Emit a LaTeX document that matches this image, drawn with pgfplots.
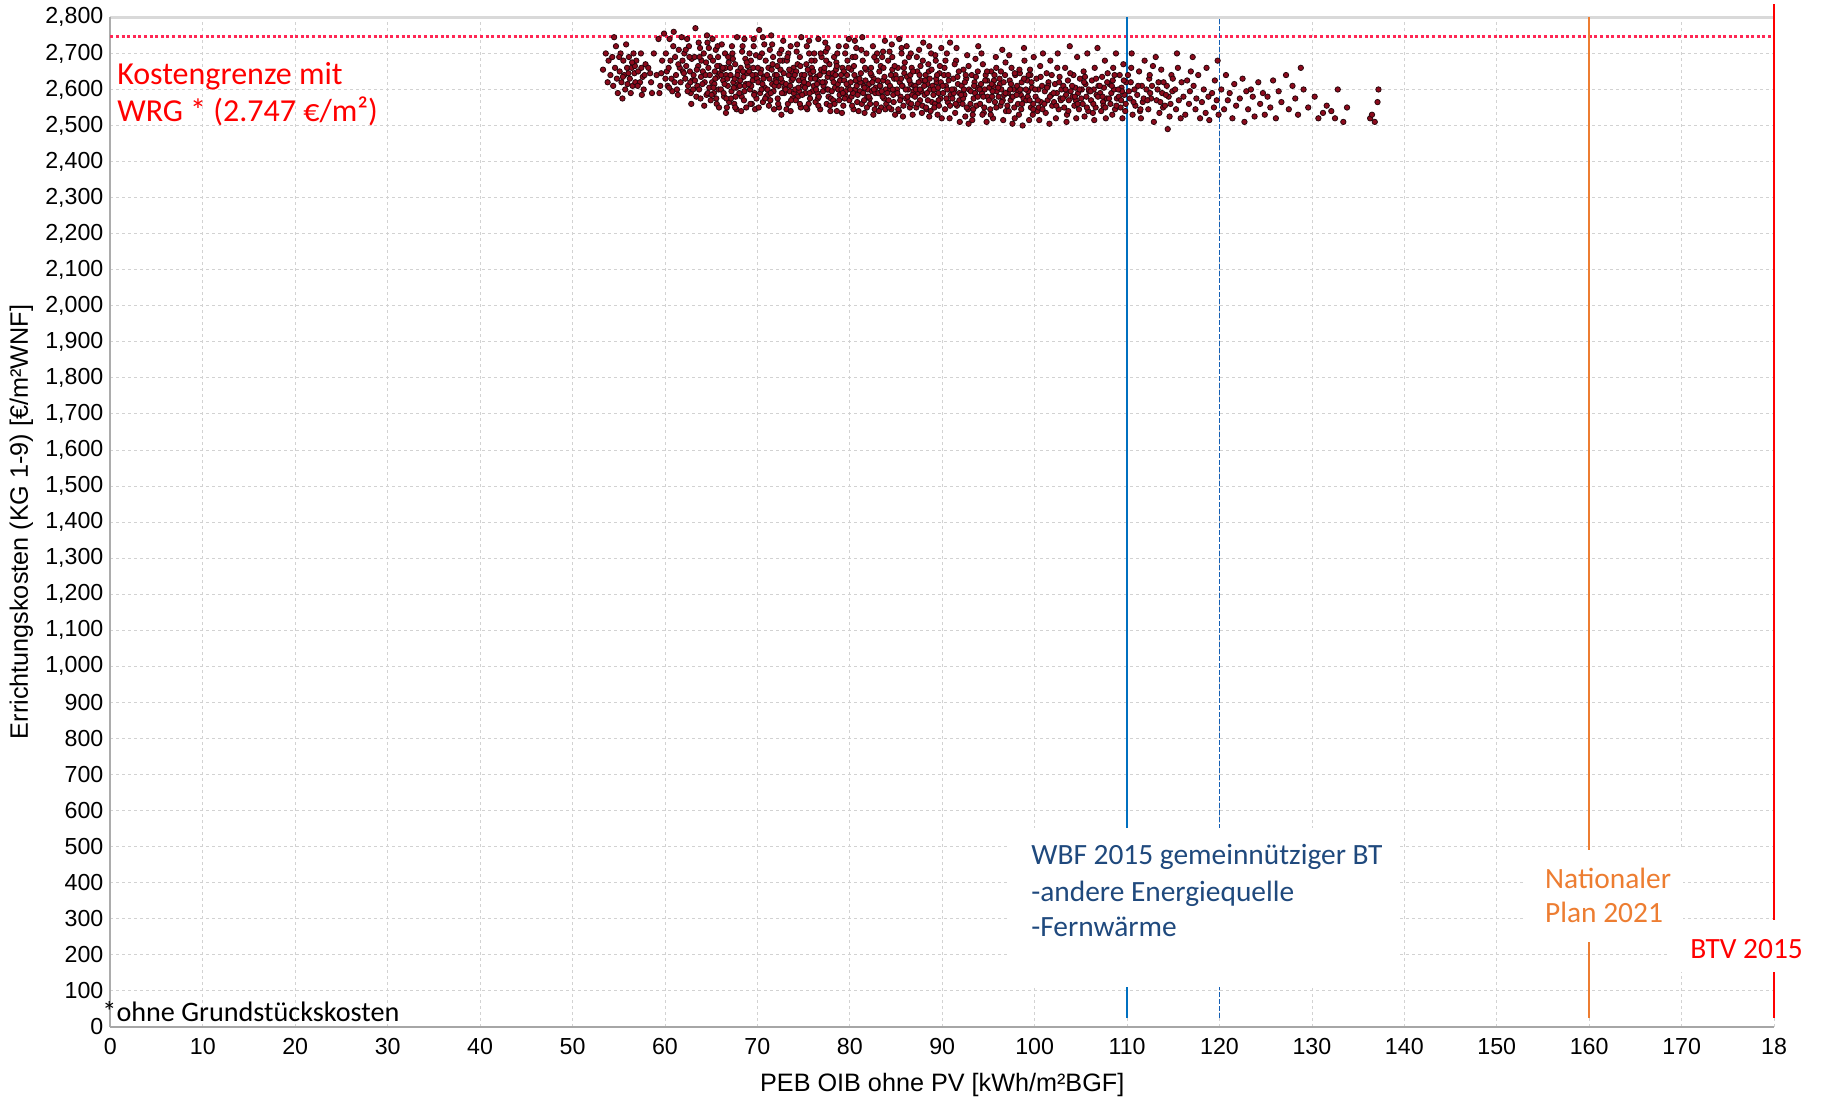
\documentclass[border=0pt]{standalone}
\usepackage{pgfplots}
\pgfplotsset{compat=1.18}
\usepackage{fontspec}
\setmainfont{Liberation Sans}
\newfontfamily\calibri{Carlito}
\definecolor{ptfill}{RGB}{140,10,28}
\definecolor{ptedge}{RGB}{40,6,12}
\definecolor{limred}{RGB}{255,40,85}
\definecolor{wbfblue}{RGB}{0,112,192}
\definecolor{wbfdash}{RGB}{20,95,180}
\definecolor{wbftext}{RGB}{31,73,125}
\definecolor{natorange}{RGB}{237,125,49}
\definecolor{btvred}{RGB}{255,0,0}
\begin{document}
\begin{tikzpicture}
\begin{axis}[
  name=ax, at={(0,0)}, anchor=south west,
  scale only axis,
  width=831.8pt, height=504.6pt,
  xmin=0, xmax=180, ymin=0, ymax=2800,
  clip=false,
  axis line style={draw=none},
  xtick={0,10,...,180},
  xticklabels={0,10,20,30,40,50,60,70,80,90,100,110,120,130,140,150,160,170,18},
  ytick={0,100,...,2800},
  major tick length=0pt,
  grid=major,
  major grid style={gray!35, line width=0.4pt, dash pattern=on 1.5pt off 1.5pt},
  tick label style={font=\fontsize{11.6}{13}\selectfont},
  /pgf/number format/assume math mode=true,
  /pgf/number format/.cd, 1000 sep={,},
  /pgfplots/.cd,
  xticklabel style={yshift=-2.5pt},
  xlabel={PEB OIB ohne PV [kWh/m²BGF]},
  ylabel={Errichtungskosten (KG 1-9) [€/m²WNF]},
  label style={font=\fontsize{12.6}{14}\selectfont},
  xlabel style={at={(axis description cs:0.5,-0.0575)}, anchor=center},
  ylabel style={at={(axis description cs:-0.0535,0.5)}, anchor=center},
]
% frame
\draw[gray!30, line width=1.2pt] (axis cs:0,2800) -- (axis cs:180,2800);
\draw[gray!65, line width=1pt] (axis cs:0,0) -- (axis cs:0,2800);
\draw[gray!70, line width=0.9pt] (axis cs:0,0) -- (axis cs:180,0);

\addplot[only marks, mark=*, mark size=1.35pt, mark options={fill=ptfill, draw=ptedge, line width=0.4pt}] coordinates {
(53.3,2655) (53.6,2700) (53.8,2620) (53.9,2680)
(54.1,2640) (54.3,2690) (54.4,2610) (54.6,2660) (54.7,2720) (54.8,2630) (54.9,2590) (54.5,2745)
(55.1,2650) (55.2,2700) (55.3,2620) (55.5,2680) (55.6,2640) (55.7,2600) (55.8,2725) (55.9,2660) (55.4,2575) (55.95,2615)
(56.1,2690) (56.2,2630) (56.4,2660) (56.5,2610) (56.6,2700) (56.7,2645) (56.8,2620) (56.9,2680) (56.3,2590) (56.75,2665)
(57.1,2650) (57.3,2620) (57.4,2700) (57.6,2635) (57.7,2600) (57.9,2670) (57.5,2585) (57.8,2640)
(58.2,2660) (58.5,2620) (58.8,2700) (58.6,2590)
(59.1,2640) (59.3,2740) (59.5,2610) (59.7,2680) (59.9,2755) (59.4,2590)
(60.1,2700) (60.2,2650) (60.3,2610) (60.5,2740) (60.6,2680) (60.7,2630) (60.8,2595) (60.9,2720) (60.4,2660) (60.95,2760)
(61.1,2690) (61.2,2640) (61.3,2600) (61.5,2710) (61.6,2660) (61.7,2620) (61.8,2745) (61.9,2680) (61.4,2585) (61.95,2650)
(62.1,2700) (62.2,2630) (62.3,2665) (62.5,2610) (62.6,2720) (62.7,2650) (62.8,2590) (62.9,2685) (62.4,2740) (62.95,2625)
(63.1,2640) (63.2,2690) (63.3,2770) (63.5,2610) (63.6,2665) (63.7,2600) (63.8,2715) (63.9,2635) (63.4,2580) (63.95,2680)
(64.1,2650) (64.2,2700) (64.3,2620) (64.5,2585) (64.6,2730) (64.7,2660) (64.8,2605) (64.9,2690) (64.4,2640) (64.95,2570) (64.55,2750)
(65.1,2620) (65.2,2680) (65.3,2590) (65.4,2650) (65.5,2710) (65.6,2560) (65.7,2635) (65.8,2600) (65.9,2665) (65.15,2740) (65.35,2615) (65.55,2575) (65.75,2690) (65.95,2645)
(66.05,2600) (66.2,2655) (66.3,2625) (66.4,2580) (66.5,2700) (66.6,2640) (66.7,2550) (66.8,2610) (66.9,2675) (66.15,2725) (66.35,2590) (66.55,2660) (66.75,2630) (66.95,2565)
(67.1,2640) (67.2,2595) (67.3,2700) (67.4,2620) (67.5,2560) (67.6,2670) (67.7,2605) (67.8,2745) (67.9,2650) (67.15,2575) (67.35,2685) (67.55,2630) (67.75,2545) (67.95,2615)
(68.1,2610) (68.2,2660) (68.3,2580) (68.4,2720) (68.5,2635) (68.6,2595) (68.7,2685) (68.8,2550) (68.9,2645) (68.15,2625) (68.35,2705) (68.55,2570) (68.75,2615) (68.95,2665)
(69.1,2650) (69.2,2600) (69.3,2680) (69.4,2560) (69.5,2625) (69.6,2740) (69.7,2590) (69.8,2640) (69.9,2575) (69.15,2700) (69.35,2610) (69.55,2660) (69.75,2545) (69.95,2630)
(70.1,2620) (70.2,2765) (70.3,2590) (70.4,2655) (70.5,2700) (70.6,2565) (70.7,2635) (70.8,2605) (70.9,2680) (70.15,2550) (70.35,2645) (70.55,2615) (70.75,2725) (70.95,2580)
(71.1,2600) (71.2,2660) (71.3,2630) (71.4,2570) (71.5,2750) (71.6,2615) (71.7,2690) (71.8,2545) (71.9,2640) (71.15,2585) (71.35,2710) (71.55,2655) (71.75,2595) (71.95,2625)
(72.1,2640) (72.2,2575) (72.3,2610) (72.4,2700) (72.5,2655) (72.6,2530) (72.7,2620) (72.8,2735) (72.9,2590) (72.15,2665) (72.35,2550) (72.55,2630) (72.75,2680) (72.95,2605)
(73.1,2615) (73.2,2680) (73.3,2560) (73.4,2640) (73.5,2595) (73.6,2720) (73.7,2625) (73.8,2575) (73.9,2660) (73.15,2545) (73.35,2700) (73.55,2610) (73.75,2650) (73.95,2590)
(74.1,2600) (74.2,2650) (74.3,2725) (74.4,2580) (74.5,2625) (74.6,2690) (74.7,2550) (74.8,2640) (74.9,2610) (74.15,2570) (74.35,2670) (74.55,2595) (74.75,2745) (74.95,2630)
(75.1,2640) (75.2,2590) (75.3,2670) (75.4,2545) (75.5,2615) (75.6,2700) (75.7,2575) (75.8,2630) (75.9,2660) (75.15,2605) (75.35,2720) (75.55,2560) (75.75,2645) (75.95,2595)
(76.1,2610) (76.2,2680) (76.3,2565) (76.4,2635) (76.5,2590) (76.6,2740) (76.7,2620) (76.8,2545) (76.9,2655) (76.15,2700) (76.35,2600) (76.55,2575) (76.75,2640) (76.95,2690)
(77.1,2595) (77.2,2650) (77.3,2620) (77.4,2705) (77.5,2560) (77.6,2635) (77.7,2580) (77.8,2670) (77.9,2540) (77.15,2610) (77.35,2730) (77.55,2600) (77.75,2645) (77.95,2575)
(78.1,2630) (78.2,2570) (78.3,2690) (78.4,2605) (78.5,2655) (78.6,2540) (78.7,2615) (78.8,2720) (78.9,2585) (78.15,2645) (78.35,2560) (78.55,2675) (78.75,2600) (78.95,2625)
(79.1,2600) (79.2,2660) (79.3,2555) (79.4,2625) (79.5,2700) (79.6,2580) (79.7,2640) (79.8,2610) (79.9,2740) (79.15,2535) (79.35,2650) (79.55,2595) (79.75,2680) (79.95,2570)
(80.1,2620) (80.2,2580) (80.3,2690) (80.4,2545) (80.5,2640) (80.6,2600) (80.7,2715) (80.8,2565) (80.9,2630) (80.15,2655) (80.35,2590) (80.55,2735) (80.75,2610) (80.95,2540)
(81.1,2595) (81.2,2645) (81.3,2560) (81.4,2680) (81.5,2610) (81.6,2535) (81.7,2625) (81.8,2700) (81.9,2580) (81.15,2620) (81.35,2745) (81.55,2570) (81.75,2655) (81.95,2600)
(82.1,2615) (82.2,2560) (82.3,2660) (82.4,2595) (82.5,2720) (82.6,2630) (82.7,2545) (82.8,2605) (82.9,2680) (82.15,2575) (82.35,2640) (82.55,2530) (82.75,2590) (82.95,2700)
(83.1,2590) (83.2,2650) (83.3,2610) (83.4,2550) (83.5,2690) (83.6,2625) (83.7,2575) (83.8,2735) (83.9,2600) (83.15,2540) (83.35,2665) (83.55,2580) (83.75,2635) (83.95,2560)
(84.1,2620) (84.2,2570) (84.3,2705) (84.4,2600) (84.5,2545) (84.6,2655) (84.7,2585) (84.8,2630) (84.9,2530) (84.15,2680) (84.35,2610) (84.55,2725) (84.75,2565) (84.95,2640)
(85.1,2600) (85.2,2660) (85.3,2540) (85.4,2620) (85.5,2580) (85.6,2700) (85.7,2610) (85.8,2555) (85.9,2645) (85.15,2590) (85.35,2740) (85.55,2630) (85.75,2525) (85.95,2675)
(86.1,2575) (86.2,2635) (86.3,2600) (86.4,2690) (86.5,2550) (86.6,2615) (86.7,2660) (86.8,2530) (86.9,2595) (86.15,2720) (86.35,2565) (86.55,2640) (86.75,2585) (86.95,2610)
(87.1,2610) (87.2,2550) (87.3,2650) (87.4,2590) (87.5,2710) (87.6,2570) (87.7,2625) (87.8,2535) (87.9,2680) (87.15,2600) (87.35,2560) (87.55,2640) (87.75,2595) (87.95,2730)
(88.1,2585) (88.2,2640) (88.3,2545) (88.4,2615) (88.5,2670) (88.6,2525) (88.7,2600) (88.8,2700) (88.9,2565) (88.15,2625) (88.35,2590) (88.55,2650) (88.75,2540) (88.95,2610)
(89.1,2600) (89.2,2560) (89.3,2680) (89.4,2620) (89.5,2530) (89.6,2590) (89.7,2645) (89.8,2575) (89.9,2715) (89.15,2550) (89.35,2630) (89.55,2605) (89.75,2665) (89.95,2520)
(90.1,2590) (90.2,2640) (90.3,2545) (90.4,2610) (90.5,2700) (90.6,2565) (90.7,2625) (90.8,2520) (90.9,2585) (90.25,2660) (90.55,2600) (90.85,2730)
(91.1,2575) (91.2,2630) (91.3,2600) (91.4,2535) (91.5,2680) (91.6,2555) (91.7,2615) (91.8,2650) (91.9,2510) (91.25,2590) (91.55,2715) (91.85,2570)
(92.1,2610) (92.2,2560) (92.3,2655) (92.4,2585) (92.5,2525) (92.6,2630) (92.7,2695) (92.8,2545) (92.9,2600) (92.25,2575) (92.55,2640) (92.85,2505)
(93.1,2595) (93.2,2640) (93.3,2530) (93.4,2575) (93.5,2620) (93.6,2685) (93.7,2555) (93.8,2605) (93.9,2720) (93.25,2515) (93.55,2590) (93.85,2650)
(94.1,2560) (94.2,2615) (94.3,2590) (94.4,2670) (94.5,2535) (94.6,2600) (94.7,2640) (94.8,2510) (94.9,2580) (94.25,2700) (94.55,2550) (94.85,2625)
(95.1,2605) (95.2,2545) (95.3,2650) (95.4,2580) (95.5,2520) (95.6,2625) (95.7,2565) (95.8,2690) (95.9,2595) (95.25,2530) (95.55,2610) (95.85,2660)
(96.1,2580) (96.2,2630) (96.3,2555) (96.4,2600) (96.5,2710) (96.6,2515) (96.7,2585) (96.8,2640) (96.9,2540) (96.25,2615) (96.55,2570) (96.85,2675)
(97.1,2590) (97.2,2540) (97.3,2625) (97.4,2570) (97.5,2660) (97.6,2505) (97.7,2600) (97.8,2550) (97.9,2640) (97.25,2695) (97.55,2580) (97.85,2520)
(98.1,2610) (98.2,2560) (98.3,2530) (98.4,2645) (98.5,2585) (98.6,2620) (98.7,2500) (98.8,2575) (98.9,2680) (98.25,2595) (98.55,2545) (98.85,2715)
(99.1,2570) (99.2,2625) (99.3,2595) (99.4,2515) (99.5,2655) (99.6,2550) (99.7,2605) (99.8,2530) (99.9,2690) (99.25,2580) (99.55,2640) (99.85,2560)
(100.1,2580) (100.2,2630) (100.3,2540) (100.4,2600) (100.5,2515) (100.6,2665) (100.7,2565) (100.8,2610) (100.9,2700) (100.45,2550)
(101.1,2595) (101.2,2535) (101.3,2645) (101.4,2570) (101.5,2620) (101.6,2505) (101.7,2680) (101.8,2585) (101.9,2555) (101.45,2610)
(102.1,2565) (102.2,2615) (102.3,2520) (102.4,2590) (102.5,2700) (102.6,2545) (102.7,2635) (102.8,2575) (102.9,2600) (102.45,2660)
(103.1,2610) (103.2,2550) (103.3,2660) (103.4,2585) (103.5,2530) (103.6,2625) (103.7,2570) (103.8,2720) (103.9,2595) (103.45,2510)
(104.1,2580) (104.2,2640) (104.3,2555) (104.4,2605) (104.5,2520) (104.6,2690) (104.7,2590) (104.8,2545) (104.9,2630) (104.45,2570)
(105.1,2600) (105.2,2560) (105.3,2650) (105.4,2525) (105.5,2615) (105.6,2580) (105.7,2700) (105.8,2540) (105.9,2595) (105.45,2635)
(106.1,2570) (106.2,2625) (106.3,2535) (106.4,2600) (106.5,2660) (106.6,2550) (106.7,2585) (106.8,2715) (106.9,2610) (106.45,2515)
(107.1,2590) (107.2,2540) (107.3,2635) (107.4,2565) (107.5,2605) (107.6,2680) (107.7,2520) (107.8,2575) (107.9,2645) (107.45,2555)
(108.1,2615) (108.2,2560) (108.3,2590) (108.4,2530) (108.5,2660) (108.6,2600) (108.7,2545) (108.8,2700) (108.9,2575) (108.45,2625)
(109.1,2580) (109.2,2640) (109.3,2550) (109.4,2605) (109.5,2520) (109.6,2670) (109.7,2585) (109.8,2540) (109.9,2620) (109.45,2595)
(110.1,2640) (110.3,2575) (110.5,2700) (110.6,2530) (110.8,2600) (110.9,2555) (110.4,2620)
(111.1,2585) (111.3,2650) (111.4,2540) (111.6,2610) (111.7,2565) (111.9,2680) (111.5,2520)
(112.1,2600) (112.3,2545) (112.4,2630) (112.6,2575) (112.8,2665) (112.9,2510) (112.5,2590)
(113.2,2570) (113.4,2620) (113.5,2535) (113.7,2655) (113.8,2590) (113.9,2550) (113.1,2690)
(114.1,2555) (114.3,2610) (114.5,2580) (114.6,2525) (114.8,2640) (114.9,2595) (114.4,2490)
(115.2,2600) (115.3,2545) (115.5,2660) (115.6,2570) (115.8,2520) (115.9,2620) (115.4,2700)
(116.1,2580) (116.3,2530) (116.5,2625) (116.7,2560) (116.8,2595) (116.9,2650)
(117.2,2610) (117.4,2545) (117.5,2575) (117.7,2640) (117.9,2520) (117.1,2690)
(118.1,2565) (118.3,2600) (118.5,2535) (118.6,2660) (118.8,2580) (118.9,2515)
(119.2,2590) (119.4,2550) (119.5,2625) (119.7,2570) (119.8,2680) (119.9,2530)
(120.2,2600) (120.5,2545) (120.7,2640) (120.9,2570)
(121.1,2590) (121.4,2520) (121.6,2615) (121.8,2555)
(122.2,2575) (122.5,2630) (122.7,2510) (122.9,2595)
(123.1,2545) (123.4,2600) (123.6,2580) (123.8,2525)
(124.2,2620) (124.4,2560) (124.7,2590) (124.9,2530)
(125.2,2580) (125.5,2550) (125.8,2625)
(126.1,2520) (126.4,2595) (126.7,2565)
(127.2,2640) (127.5,2545) (127.9,2610)
(128.2,2575) (128.5,2530) (128.8,2660)
(129.1,2600) (129.6,2550)
(130.3,2580) (130.7,2520)
(131.2,2535) (131.6,2555)
(132.1,2540) (132.5,2520) (132.8,2600)
(133.4,2510) (133.8,2550)
(136.3,2520) (136.8,2510) (136.5,2530)
(137.2,2600) (137.1,2565)
(55.05,2690) (55.45,2635) (56.05,2645) (56.45,2675) (57.05,2610) (57.45,2660) (60.05,2630) (60.45,2605) (61.05,2620) (61.45,2670) (59.6,2645) (58.4,2645)
(62.05,2645) (62.45,2595) (62.65,2690) (62.85,2560) (62.25,2710) (62.75,2620)
(63.05,2600) (63.45,2655) (63.65,2730) (63.85,2575) (63.25,2625) (63.75,2690)
(64.05,2615) (64.45,2675) (64.65,2590) (64.85,2640) (64.25,2555) (64.75,2715)
(65.05,2585) (65.45,2630) (65.65,2665) (65.85,2550) (65.25,2605) (65.7,2720)
(66.1,2640) (66.45,2615) (66.65,2575) (66.85,2690) (66.25,2660) (66.6,2535)
(67.05,2660) (67.45,2605) (67.65,2580) (67.85,2640) (67.25,2720) (67.6,2550)
(68.05,2590) (68.45,2650) (68.65,2610) (68.85,2675) (68.25,2540) (68.6,2740)
(69.05,2615) (69.45,2640) (69.65,2585) (69.85,2695) (69.25,2560) (69.6,2720)
(70.05,2660) (70.45,2600) (70.65,2630) (70.85,2575) (70.25,2690) (70.6,2745)
(71.05,2640) (71.45,2590) (71.65,2670) (71.85,2610) (71.25,2555) (71.6,2725)
(72.05,2620) (72.45,2680) (72.65,2590) (72.85,2645) (72.25,2560) (72.6,2710)
(73.05,2600) (73.45,2655) (73.65,2570) (73.85,2630) (73.25,2690) (73.6,2540)
(74.05,2640) (74.45,2605) (74.65,2665) (74.85,2585) (74.25,2705) (74.6,2560)
(75.05,2620) (75.45,2655) (75.65,2590) (75.85,2680) (75.25,2550) (75.6,2735)
(76.05,2650) (76.45,2615) (76.65,2580) (76.85,2700) (76.25,2630) (76.6,2555)
(77.05,2620) (77.45,2680) (77.65,2600) (77.85,2555) (77.25,2660) (77.6,2715)
(78.05,2595) (78.45,2640) (78.65,2700) (78.85,2570) (78.25,2620) (78.6,2665)
(79.05,2640) (79.45,2575) (79.65,2615) (79.85,2660) (79.25,2590) (79.6,2720)
(80.05,2600) (80.45,2665) (80.65,2625) (80.85,2585) (80.25,2555) (80.6,2690)
(81.05,2630) (81.45,2590) (81.65,2660) (81.85,2550) (81.25,2710) (81.6,2605)
(82.05,2580) (82.45,2620) (82.65,2690) (82.85,2560) (82.25,2645) (82.6,2600)
(83.05,2625) (83.45,2595) (83.65,2660) (83.85,2545) (83.25,2610) (83.6,2705)
(84.05,2590) (84.45,2640) (84.65,2600) (84.85,2665) (84.25,2550) (84.6,2690)
(85.05,2630) (85.45,2570) (85.65,2610) (85.85,2660) (85.25,2545) (85.6,2715)
(86.05,2600) (86.45,2625) (86.65,2560) (86.85,2650) (86.25,2580) (86.6,2700)
(87.05,2580) (87.45,2620) (87.65,2665) (87.85,2555) (87.25,2690) (87.6,2600)
(88.05,2610) (88.45,2570) (88.65,2630) (88.85,2655) (88.25,2550) (88.6,2720)
(89.05,2585) (89.45,2640) (89.65,2555) (89.85,2620) (89.25,2695) (89.6,2570)
(90.05,2610) (90.45,2575) (90.65,2640) (90.85,2555) (90.35,2680)
(91.05,2600) (91.45,2560) (91.65,2635) (91.85,2590) (91.35,2670)
(92.05,2585) (92.45,2620) (92.65,2550) (92.85,2665) (92.35,2600)
(93.05,2560) (93.45,2610) (93.65,2635) (93.85,2580) (93.35,2545)
(94.05,2600) (94.45,2580) (94.65,2625) (94.85,2650) (94.35,2530)
(95.05,2570) (95.45,2595) (95.65,2640) (95.85,2550) (95.35,2615)
(96.05,2605) (96.45,2565) (96.65,2620) (96.85,2590) (96.35,2650)
(97.05,2555) (97.45,2615) (97.65,2580) (97.85,2645) (97.35,2600)
(98.05,2585) (98.45,2600) (98.65,2560) (98.85,2630) (98.35,2655)
(99.05,2600) (99.45,2570) (99.65,2620) (99.85,2545) (99.35,2640)
(100.05,2600) (100.35,2570) (100.65,2635) (100.85,2545)
(101.05,2560) (101.35,2605) (101.65,2580) (101.85,2640)
(102.05,2590) (102.35,2555) (102.65,2620) (102.85,2570)
(103.05,2575) (103.35,2600) (103.65,2540) (103.85,2645)
(104.05,2610) (104.35,2580) (104.65,2560) (104.85,2600)
(105.05,2575) (105.35,2620) (105.65,2550) (105.85,2600)
(106.05,2595) (106.35,2560) (106.65,2630) (106.85,2580)
(107.05,2610) (107.35,2580) (107.65,2550) (107.85,2620)
(108.05,2575) (108.35,2610) (108.65,2640) (108.85,2555)
(109.05,2600) (109.35,2570) (109.65,2625) (109.85,2560)
(110.2,2595) (110.7,2565) (110.45,2660)
(111.2,2610) (111.8,2575) (111.45,2545)
(112.2,2570) (112.7,2610) (112.45,2640)
(113.3,2600) (113.6,2565) (113.95,2620)
(114.2,2585) (114.7,2560) (114.95,2630)
};

% cost limit
\addplot[limred, line width=1.35pt, dash pattern=on 1.5pt off 1.3pt] coordinates {(0,2747) (180,2747)};

% vertical limit lines
\addplot[wbfblue, line width=0.65pt] coordinates {(110,25) (110,2800)};
\addplot[wbfdash, line width=0.5pt, dash pattern=on 2.5pt off 1pt] coordinates {(120,25) (120,2800)};
\addplot[natorange, line width=0.85pt] coordinates {(160,25) (160,2800)};
\addplot[btvred, line width=0.85pt] coordinates {(180,25) (180,2837)};

% white label boxes
\fill[white] (axis cs:97.3,110) rectangle (axis cs:139.2,551);
\fill[white] (axis cs:153.0,236) rectangle (axis cs:170.2,490);
\fill[white] (axis cs:168.7,152) rectangle (axis cs:186,296);

% texts
\node[anchor=base west, inner sep=0pt, text=wbftext, font=\calibri\fontsize{14.7}{17}\selectfont] at (axis cs:99.6,448.8) {WBF 2015 gemeinnütziger BT};
\node[anchor=base west, inner sep=0pt, text=wbftext, font=\calibri\fontsize{14.7}{17}\selectfont] at (axis cs:99.6,346.6) {-andere Energiequelle};
\node[anchor=base west, inner sep=0pt, text=wbftext, font=\calibri\fontsize{14.7}{17}\selectfont] at (axis cs:99.6,249.4) {-Fernwärme};
\node[anchor=base west, inner sep=0pt, text=natorange, font=\calibri\fontsize{14.7}{17}\selectfont] at (axis cs:155.2,383.2) {Nationaler};
\node[anchor=base west, inner sep=0pt, text=natorange, font=\calibri\fontsize{14.7}{17}\selectfont] at (axis cs:155.2,288.3) {Plan 2021};
\node[anchor=base west, inner sep=0pt, text=btvred, font=\calibri\fontsize{14.7}{17}\selectfont] at (axis cs:170.9,189.5) {BTV 2015};
\node[anchor=base west, inner sep=0pt, text=btvred, font=\calibri\fontsize{16}{19}\selectfont] at (axis cs:0.7,2612.7) {Kostengrenze mit};
\node[anchor=base west, inner sep=0pt, text=btvred, font=\calibri\fontsize{16}{19}\selectfont] at (axis cs:0.7,2510.8) {WRG * (2.747 €/m²)};
\node[anchor=base west, inner sep=0pt, text=black, font=\calibri\fontsize{14.1}{17}\selectfont] at (axis cs:-0.9,13.6) {*ohne Grundstückskosten};
\end{axis}
\pgfresetboundingbox
\path[use as bounding box] (-55.2pt,-34.7pt) rectangle (856.3pt,513.3pt);
\end{tikzpicture}
\end{document}
